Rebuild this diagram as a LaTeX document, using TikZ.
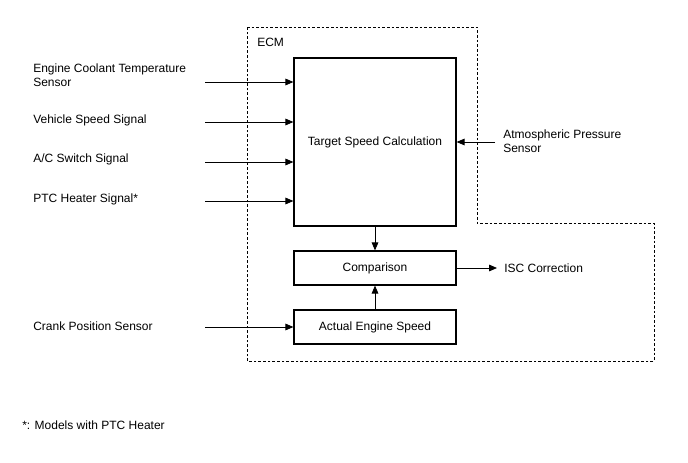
\documentclass[tikz,border=0pt]{standalone}
\usepackage{fontspec}
\setmainfont{Liberation Sans}
\usetikzlibrary{arrows.meta}

\begin{document}
\begin{tikzpicture}[
        x=0.75pt, y=-0.75pt,
        every node/.style={font=\fontsize{9}{10.5}\selectfont},
        blockbox/.style={rectangle, draw=black, line width=0.9pt, minimum width=121.5pt, inner sep=0pt},
        label/.style={anchor=west, align=left, inner sep=0pt},
        arrow/.style={-{Triangle[length=6pt,width=5pt]}, line width=0.6pt, draw=black},
        ecmline/.style={draw=black, line width=0.7pt, dash pattern=on 2pt off 1.5pt}
        ]
        \useasboundingbox (0,0) rectangle (688,463);

        % ECM outline
        \draw[ecmline] (247,27) -- (477,27) -- (477,223) -- (654,223) -- (654,361) -- (247,361) -- cycle;
        \node[label] (ecm) at (257,42) {ECM};

        % Blocks
        \node[blockbox, minimum height=126pt] (target) at (375,142) {Target Speed Calculation};
        \node[blockbox, minimum height=25.5pt] (compare) at (375,268) {Comparison};
        \node[blockbox, minimum height=25.5pt] (actual) at (375,327) {Actual Engine Speed};

        % Input signals
        \node[label] (ect) at (33,75) {Engine Coolant Temperature\\Sensor};
        \node[label] (vss) at (33,120) {Vehicle Speed Signal};
        \node[label] (acsw) at (33,159) {A/C Switch Signal};
        \node[label] (ptc) at (33,199) {PTC Heater Signal*};
        \node[label] (crank) at (33,326) {Crank Position Sensor};
        \node[label] (atm) at (503,141) {Atmospheric Pressure\\Sensor};
        \node[label] (isc) at (504,268) {ISC Correction};
        \node[label] (note) at (22,425) {*: Models with PTC Heater};

        \coordinate (ectIn) at (205,82);
        \coordinate (vssIn) at (205,122);
        \coordinate (acswIn) at (205,162);
        \coordinate (ptcIn) at (205,201);
        \coordinate (crankIn) at (205,327);
        \coordinate (atmIn) at (495,142);
        \coordinate (iscOut) at (497,268);

        % Connections
        \draw[arrow] (ectIn) -- (target.west |- ectIn);
        \draw[arrow] (vssIn) -- (target.west |- vssIn);
        \draw[arrow] (acswIn) -- (target.west |- acswIn);
        \draw[arrow] (ptcIn) -- (target.west |- ptcIn);
        \draw[arrow] (crankIn) -- (actual.west);
        \draw[arrow] (atmIn) -- (target.east |- atmIn);
        \draw[arrow] (target.south) -- (compare.north);
        \draw[arrow] (actual.north) -- (compare.south);
        \draw[arrow] (compare.east) -- (iscOut);

    \end{tikzpicture}
\end{document}
